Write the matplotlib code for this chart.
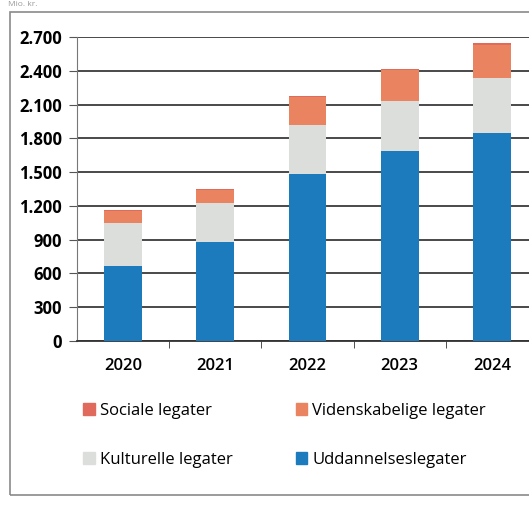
import matplotlib
matplotlib.use("Agg")
import matplotlib.pyplot as plt
from matplotlib.patches import Rectangle, Patch
import numpy as np

years = ["2020", "2021", "2022", "2023", "2024"]
uddannelse = [667, 881, 1486, 1691, 1851]
kulturelle = [383, 347, 428, 445, 489]
videnskabelige = [106, 115, 251, 269, 288]
sociale = [10, 10, 15, 15, 15]
yticks = [0, 300, 600, 900, 1200, 1500, 1800, 2100, 2400, 2700]
ytick_labels = ["0", "300", "600", "900", "1.200", "1.500", "1.800", "2.100", "2.400", "2.700"]

series = [
    ("Uddannelseslegater", uddannelse, "#1b7bbd"),
    ("Kulturelle legater", kulturelle, "#dcdedb"),
    ("Videnskabelige legater", videnskabelige, "#ea8460"),
    ("Sociale legater", sociale, "#e06a5c"),
]

plt.rcParams['font.family'] = ['Open Sans', 'DejaVu Sans']
fig = plt.figure(figsize=(5.29, 5.09), dpi=100)
W, H = 529, 509

# outer frame
fig.patches.append(Rectangle((10 / W, (H - 495) / H), 1.2, (495 - 12) / H,
                             transform=fig.transFigure, fill=False,
                             edgecolor="#8a8a8a", linewidth=1.2))
fig.text(8 / W, 1.0 - 1 / H, "Mio. kr.", fontsize=6, color="#999999", va="top", ha="left")

ax = fig.add_axes([77 / W, (H - 341) / H, (538 - 77) / W, (341 - 37) / H])
x = np.arange(len(years))
bottom = np.zeros(len(years))
for name, vals, col in series:
    ax.bar(x, vals, width=0.41, bottom=bottom, color=col, label=name, zorder=3)
    bottom += np.array(vals)

ax.set_xlim(-0.5, 4.5)
ax.set_ylim(0, 2700)
ax.set_yticks(yticks)
ax.set_yticklabels(ytick_labels, fontsize=12, fontweight="bold")
ax.yaxis.grid(True, color="#3a3a3a", linewidth=1.3, zorder=0)
ax.set_axisbelow(True)
ax.set_xticks(x)
ax.set_xticklabels(years, fontsize=12, fontweight="semibold")
ax.tick_params(axis="x", length=0, pad=12)
ax.tick_params(axis="y", length=6, color="#555555", pad=5)
ax.set_xticks(np.arange(0.5, 4.5, 1.0), minor=True)
ax.tick_params(axis="x", which="minor", length=5, color="#333333", direction="out")
for s in ["top", "right"]:
    ax.spines[s].set_visible(False)
ax.spines["left"].set_color("#777777")
ax.spines["bottom"].set_color("#333333")
ax.spines["bottom"].set_linewidth(1.3)

handles = [Patch(color="#e06a5c"), Patch(color="#dcdedb"),
           Patch(color="#ea8460"), Patch(color="#1b7bbd")]
labels = ["Sociale legater", "Kulturelle legater",
          "Videnskabelige legater", "Uddannelseslegater"]
fig.legend(handles, labels, ncol=2, loc="upper left",
           bbox_to_anchor=(68 / W, (H - 388) / H), frameon=False,
           fontsize=12, handlelength=0.7, handleheight=0.7, handletextpad=0.3,
           labelspacing=1.95, columnspacing=3.8)

fig.savefig("out.png", dpi=100)
